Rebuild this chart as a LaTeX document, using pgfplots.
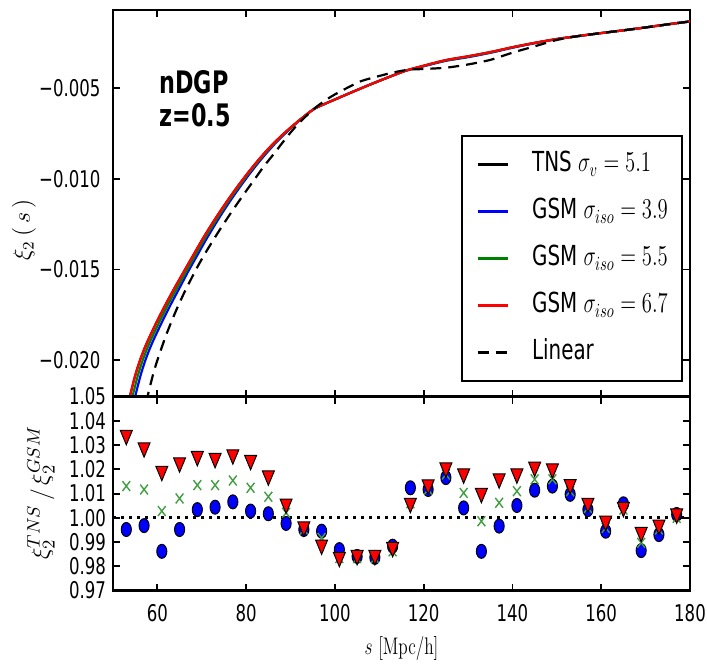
\documentclass[border=0pt]{standalone}
\usepackage[no-math]{fontspec}
\setmainfont{DejaVu Sans}[FakeStretch=0.72]
\usepackage{graphicx}
\usepackage{pgfplots}
\pgfplotsset{compat=1.18}
\newcommand{\cm}[1]{\scalebox{0.72}[1]{#1}}
\definecolor{mgreen}{rgb}{0,0.5,0}
\definecolor{xgreen}{rgb}{0.25,0.62,0.25}

\begin{document}
\begin{tikzpicture}
\path[use as bounding box] (-56.5pt,-37.65pt) rectangle (297pt,295.3pt);
\pgfplotsset{
  every axis/.append style={
    scale only axis, width=288.5pt, xmin=50, xmax=180,
    axis line style={line width=1.3pt},
    tick align=inside, major tick length=3.5pt,
    tick style={black, line width=0.9pt},
    xtick={60,80,100,120,140,160,180},
    tick label style={font=\fontsize{11.5}{12}\selectfont},
    scaled y ticks=false, scaled x ticks=false,
  }
}
% ---------------- top panel ----------------
\begin{axis}[
  at={(0pt,97pt)}, anchor=south west, height=193.3pt,
  ymin=-0.022, ymax=-0.0007,
  ytick={-0.02,-0.015,-0.01,-0.005},
  yticklabels={−0.020,−0.015,−0.010,−0.005},
  yticklabel style={xshift=-2.7pt},
  xticklabels=\empty,
  every axis y label/.style={at={(rel axis cs:0,0.431)}, xshift=-44.5pt, rotate=90, anchor=center},
  ylabel={\fontsize{12}{14}\selectfont$\xi_2\,(\,s\,)$},
  legend cell align=left,
  legend image code/.code={\draw[#1, line width=1.5pt] (0pt,0pt) -- (15pt,0pt);},
  legend style={at={(rel axis cs:1,0)}, anchor=south east, xshift=-3.5pt, yshift=7.35pt,
    draw=black, line width=1.2pt, fill=white, inner xsep=7pt, inner ysep=2.5pt,
    row sep=0pt, column sep=11.5pt,
    font=\fontsize{13.8}{15}\selectfont,
    nodes={inner sep=0pt, text height=15.5pt, text depth=8pt}},
]
\addplot[black, line width=1.1pt, smooth, tension=0.4] coordinates {
(53.8,-0.0220) (54,-0.02179) (55,-0.02084) (56,-0.02006) (57,-0.01941) (58,-0.01884) (60,-0.01781) (62,-0.01686)
(64,-0.01596) (66,-0.0151) (68,-0.01425) (70,-0.0134) (72,-0.0126) (74,-0.01185)
(76,-0.01113) (78,-0.01045) (80,-0.0098) (82,-0.00919) (84,-0.00862) (86,-0.00809)
(88,-0.00762) (90,-0.00718) (92,-0.00677) (94,-0.00638) (95.5,-0.00612) (98,-0.00584)
(100,-0.00563) (104,-0.00521) (108,-0.00480) (112,-0.00441) (116,-0.00404) (120,-0.00377)
(125,-0.00346) (130,-0.00325) (135,-0.00302) (140,-0.00275) (145,-0.00251) (150,-0.00230)
(155,-0.00213) (160,-0.00197) (165,-0.00182) (170,-0.00166) (175,-0.00149) (180,-0.00133)};
\addlegendentry{TNS \cm{$\sigma_v = 5.1$}}
\addplot[blue, line width=1.1pt, smooth, tension=0.4] coordinates {
(55.0,-0.0220) (55.2,-0.02179) (56.2,-0.02084) (57.2,-0.02006) (58.2,-0.01941) (59.2,-0.01884) (61.2,-0.01781) (63.15,-0.01686)
(65.1,-0.01596) (66.95,-0.0151) (68.9,-0.01425) (70.85,-0.0134) (72.8,-0.0126) (74.7,-0.01185)
(76.65,-0.01113) (78.6,-0.01045) (80.55,-0.0098) (82.5,-0.00919) (84.45,-0.00862) (86.4,-0.00809)
(88.3,-0.00762) (90.2,-0.00718) (92.1,-0.00677) (94.05,-0.00638) (95.5,-0.00612) (98,-0.00584)
(100,-0.00563) (104,-0.00521) (108,-0.00480) (112,-0.00441) (116,-0.00404) (120,-0.00380)
(125,-0.00350) (130,-0.00330) (135,-0.00306) (140,-0.00278) (145,-0.00253) (150,-0.00230)
(155,-0.00213) (160,-0.00197) (165,-0.00182) (170,-0.00166) (175,-0.00149) (180,-0.00133)};
\addlegendentry{GSM \cm{$\sigma_{iso} = 3.9$}}
\addplot[mgreen, line width=1.1pt, smooth, tension=0.4] coordinates {
(54.4,-0.0220) (54.6,-0.02179) (55.6,-0.02084) (56.6,-0.02006) (57.6,-0.01941) (58.6,-0.01884) (60.6,-0.01781) (62.55,-0.01686)
(64.55,-0.01596) (66.5,-0.0151) (68.45,-0.01425) (70.4,-0.0134) (72.4,-0.0126) (74.35,-0.01185)
(76.3,-0.01113) (78.3,-0.01045) (80.25,-0.0098) (82.25,-0.00919) (84.2,-0.00862) (86.2,-0.00809)
(88.15,-0.00762) (90.1,-0.00718) (92.05,-0.00677) (94,-0.00638) (95.5,-0.00612) (98,-0.00584)
(100,-0.00563) (104,-0.00521) (108,-0.00480) (112,-0.00441) (116,-0.00404) (120,-0.00378)
(125,-0.00348) (130,-0.00327) (135,-0.00304) (140,-0.00276) (145,-0.00252) (150,-0.00230)
(155,-0.00213) (160,-0.00197) (165,-0.00182) (170,-0.00166) (175,-0.00149) (180,-0.00133)};
\addlegendentry{GSM \cm{$\sigma_{iso} = 5.5$}}
\addplot[red, line width=1.1pt, smooth, tension=0.4] coordinates {
(53.8,-0.0220) (54,-0.02179) (55,-0.02084) (56,-0.02006) (57,-0.01941) (58,-0.01884) (60,-0.01781) (62,-0.01686)
(64,-0.01596) (66,-0.0151) (68,-0.01425) (70,-0.0134) (72,-0.0126) (74,-0.01185)
(76,-0.01113) (78,-0.01045) (80,-0.0098) (82,-0.00919) (84,-0.00862) (86,-0.00809)
(88,-0.00762) (90,-0.00718) (92,-0.00677) (94,-0.00638) (95.5,-0.00612) (98,-0.00584)
(100,-0.00563) (104,-0.00521) (108,-0.00480) (112,-0.00441) (116,-0.00404) (120,-0.00377)
(125,-0.00346) (130,-0.00325) (135,-0.00302) (140,-0.00275) (145,-0.00251) (150,-0.00230)
(155,-0.00213) (160,-0.00197) (165,-0.00182) (170,-0.00166) (175,-0.00149) (180,-0.00133)};
\addlegendentry{GSM \cm{$\sigma_{iso} = 6.7$}}
\addplot[black, line width=1.1pt, dash pattern=on 5.5pt off 3.5pt, smooth, tension=0.4] coordinates {
(57.5,-0.02233) (58,-0.02177) (59,-0.02081) (60,-0.01999) (62,-0.01859) (64,-0.01738) (66,-0.0163)
(68.7,-0.0150) (71,-0.01401) (74,-0.01283) (77,-0.01172) (80,-0.01067) (81.6,-0.01013)
(84,-0.00931) (86,-0.0087) (89.5,-0.0076) (92,-0.0069) (95.5,-0.0061) (98.2,-0.00562)
(100,-0.00535) (103.4,-0.00491) (106,-0.00461) (109.6,-0.00436) (113,-0.00415) (116.5,-0.00399)
(120,-0.00395) (125,-0.00388) (130,-0.00370) (135,-0.00345) (140,-0.00305) (145,-0.00270)
(150,-0.00235) (155,-0.00213) (160,-0.00197) (165,-0.00182) (170,-0.00166) (175,-0.00149) (180,-0.00133)};
\addlegendentry{Linear}
\node[anchor=north west, inner sep=0pt, align=left, font=\bfseries\fontsize{15.5}{16.5}\selectfont]
  at (rel axis cs:0.08,0.845) {nDGP\\z=0.5};
\end{axis}
% ---------------- bottom panel ----------------
\begin{axis}[
  at={(0pt,0pt)}, anchor=south west, height=97pt,
  ymin=0.97, ymax=1.05,
  ytick={0.97,0.98,0.99,1.00,1.01,1.02,1.03,1.04,1.05},
  yticklabels={0.97,0.98,0.99,1.00,1.01,1.02,1.03,1.04,1.05},
  xticklabels={60,80,100,120,140,160,180},
  xticklabel style={yshift=-3.2pt},
  every axis y label/.style={at={(rel axis cs:0,0.504)}, xshift=-36pt, rotate=90, anchor=center},
  ylabel={\fontsize{12.5}{14}\selectfont$\xi_2^{TNS}\,/\,\xi_2^{GSM}$},
  every axis x label/.style={at={(rel axis cs:0.5,0)}, yshift=-28.7pt, anchor=center},
  xlabel={\fontsize{13}{15}\selectfont\cm{$s\,\left[\mathrm{Mpc/h}\right]$}},
]
\addplot[black, line width=1.6pt, dash pattern=on 1.6pt off 2.4pt] coordinates {(50,1) (180,1)};
\addplot[only marks, mark=*, mark size=3.5pt, mark options={fill=blue, draw=black, line width=0.5pt, xscale=0.72}] coordinates {
(53,0.9952) (57,0.9968) (61,0.9862) (65,0.9952) (69,1.0034) (73,1.0044) (77,1.0066) (81,1.0028)
(85,1.0017) (89,0.9977) (93,0.9952) (97,0.9945) (101,0.9869) (105,0.9841) (109,0.9837) (113,0.9883)
(117,1.0124) (121,1.0117) (125,1.0166) (129,1.0041) (133,0.9862) (137,0.9966) (141,1.0051) (145,1.0114)
(149,1.0131) (153,1.0097) (157,1.0034) (161,0.9945) (165,1.0058) (169,0.9865) (173,0.9931) (177,1.0014)};
\addplot[only marks, mark=x, mark size=3.5pt, mark options={draw=xgreen, line width=0.7pt, xscale=0.78}] coordinates {
(53,1.0131) (57,1.0117) (61,1.0028) (65,1.0080) (69,1.0135) (73,1.0135) (77,1.0154) (81,1.0124)
(85,1.0087) (89,1.0021) (93,0.9952) (97,0.9917) (101,0.9834) (105,0.9834) (109,0.9834) (113,0.9862)
(117,1.0060) (121,1.0117) (125,1.0179) (129,1.0103) (133,0.9986) (137,1.0062) (141,1.0110) (145,1.0159)
(149,1.0159) (153,1.0110) (157,1.0041) (161,0.9959) (165,1.0034) (169,0.9897) (173,0.9952) (177,1.0000)};
\addplot[only marks, mark=triangle*, mark size=4.8pt, mark options={fill=red, draw=black, line width=0.5pt, yshift=1.2pt, rotate=180, xscale=0.72}] coordinates {
(53,1.0331) (57,1.0280) (61,1.0183) (65,1.0218) (69,1.0244) (73,1.0236) (77,1.0251) (81,1.0228)
(85,1.0164) (89,1.0048) (93,0.9954) (97,0.9879) (101,0.9828) (105,0.9836) (109,0.9836) (113,0.9869)
(117,1.0051) (121,1.0127) (125,1.0197) (129,1.0172) (133,1.0092) (137,1.0152) (141,1.0172) (145,1.0200)
(149,1.0193) (153,1.0128) (157,1.0051) (161,0.9977) (165,1.0034) (169,0.9931) (173,0.9961) (177,1.0007)};
\end{axis}
\end{tikzpicture}
\end{document}
